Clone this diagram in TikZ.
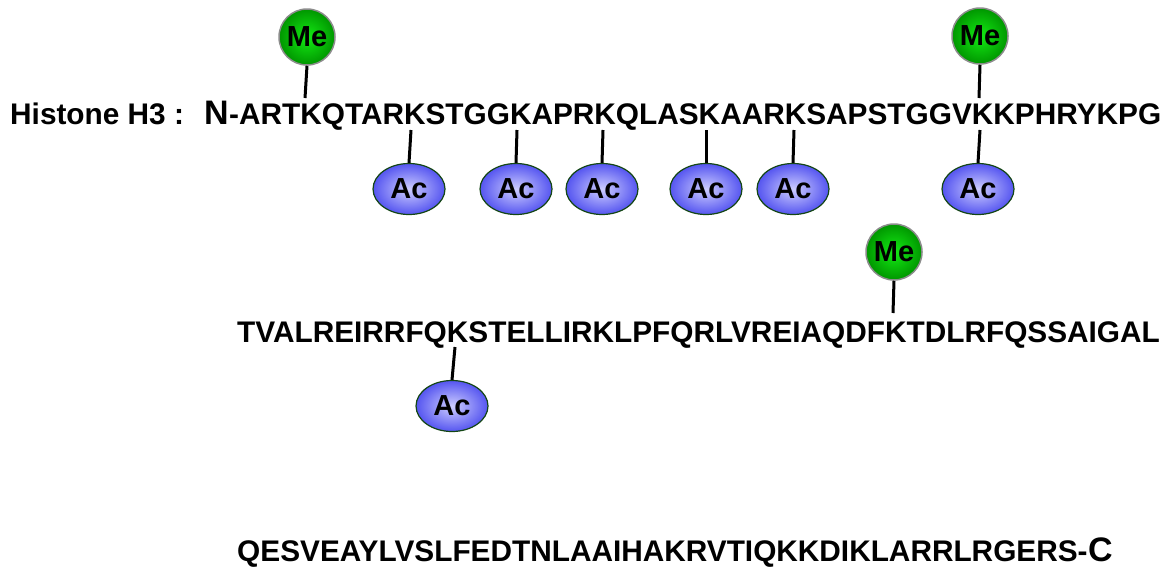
\documentclass[tikz,border=0pt]{standalone}
\usepackage{fontspec}
\setmainfont{Liberation Sans}
\usetikzlibrary{shapes.geometric}
\definecolor{megreen}{RGB}{20,235,20}
\definecolor{megreenout}{RGB}{0,150,0}
\definecolor{acin}{RGB}{205,205,255}
\definecolor{acout}{RGB}{85,85,240}
\definecolor{acborder}{RGB}{20,70,20}
\definecolor{meborder}{RGB}{140,140,140}
\begin{document}
\begin{tikzpicture}[x=1pt,y=-1pt,
  seq/.style={inner sep=0pt,anchor=base west,font=\fontsize{29.8}{30}\selectfont\bfseries},
  term/.style={inner sep=0pt,anchor=base west,font=\fontsize{34}{34}\selectfont\bfseries},
  mecirc/.style={circle,minimum size=56pt,inner sep=0pt,draw=meborder,line width=1.5pt,
     inner color=megreen,outer color=megreenout,font=\fontsize{29}{29}\selectfont\bfseries},
  acell/.style={ellipse,minimum width=72pt,minimum height=51pt,inner sep=0pt,draw=acborder,line width=1.2pt,
     inner color=acin,outer color=acout,font=\fontsize{29}{29}\selectfont\bfseries},
  stem/.style={line width=3pt,black}]
\useasboundingbox (0,0) rectangle (1169,571);
% sequences
\node[seq] (lbl) at (10,124) {Histone H3 :};
\node[term] (nterm) at (204,124) {N};
\node[seq] (seq1) at (nterm.base east) {-ARTKQTARKSTGGKAPRKQLASKAARKSAPSTGGVKKPHRYKPG};
\node[seq] (seq2) at (237,342) {TVALREIRRFQKSTELLIRKLPFQRLVREIAQDFKTDLRFQSSAIGAL};
\node[seq] (seq3) at (237,561) {QESVEAYLVSLFEDTNLAAIHAKRVTIQKKDIKLARRLRGERS-};
\node[term] (cterm) at (seq3.base east) {C};
% attachment points
\coordinate (k4) at (305,98);
\coordinate (k9) at (411,130);
\coordinate (k14) at (517,130);
\coordinate (k18) at (603,130);
\coordinate (k23) at (706,130);
\coordinate (k27) at (794,130);
\coordinate (k36t) at (979,98);
\coordinate (k36b) at (980,130);
\coordinate (k56) at (455,347);
\coordinate (k79) at (893,313);
% modifications
\node[mecirc] (me1) at (307,37) {Me};
\node[mecirc] (me2) at (980,36) {Me};
\node[mecirc] (me3) at (894,252) {Me};
\node[acell] (ac1) at (409,189) {Ac};
\node[acell] (ac2) at (516,189) {Ac};
\node[acell] (ac3) at (602,189) {Ac};
\node[acell] (ac4) at (706,189) {Ac};
\node[acell] (ac5) at (793,189) {Ac};
\node[acell] (ac6) at (978,189) {Ac};
\node[acell] (ac7) at (452,406) {Ac};
% stems
\draw[stem] (me1.south) -- (k4);
\draw[stem] (me2.south) -- (k36t);
\draw[stem] (me3.south) -- (k79);
\draw[stem] (k9) -- (ac1.north);
\draw[stem] (k14) -- (ac2.north);
\draw[stem] (k18) -- (ac3.north);
\draw[stem] (k23) -- (ac4.north);
\draw[stem] (k27) -- (ac5.north);
\draw[stem] (k36b) -- (ac6.north);
\draw[stem] (k56) -- (ac7.north);
\end{tikzpicture}
\end{document}
